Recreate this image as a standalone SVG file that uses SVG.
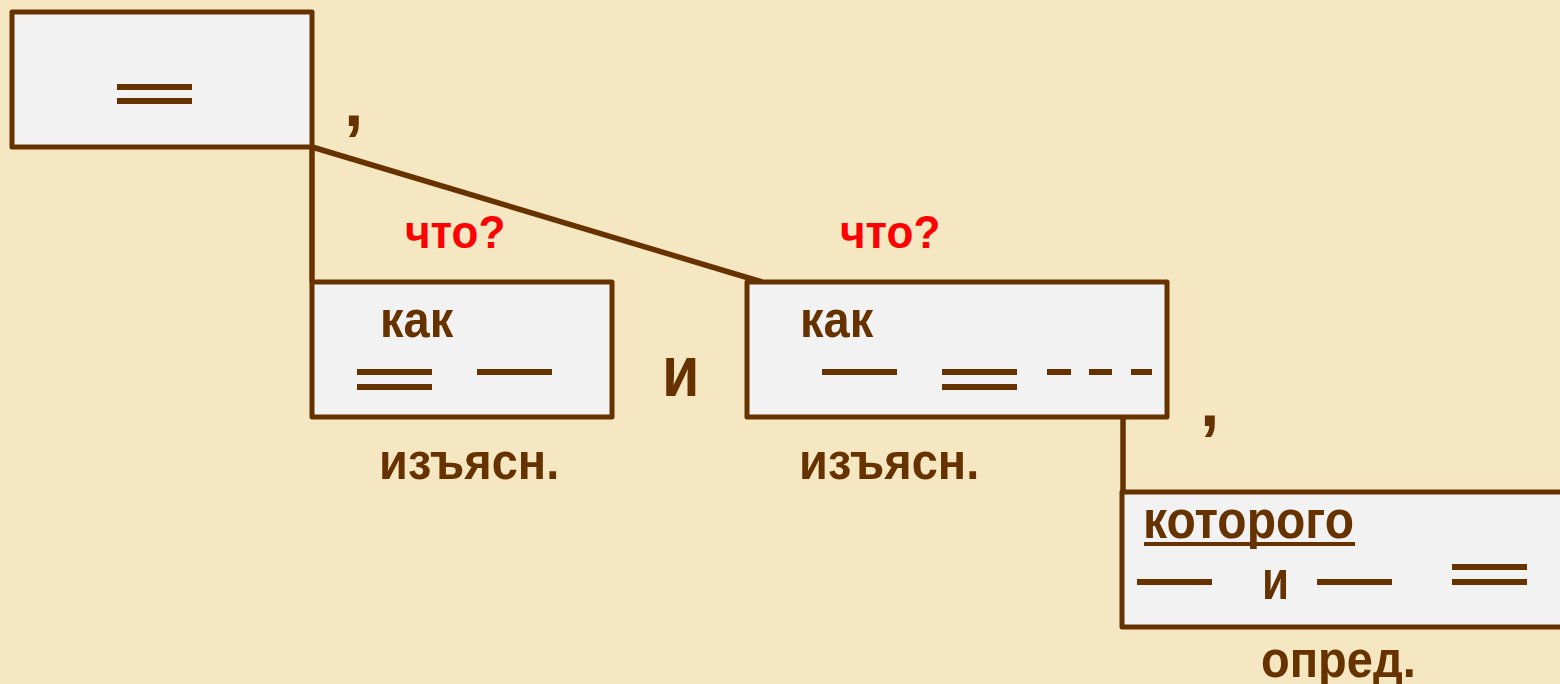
<svg xmlns="http://www.w3.org/2000/svg" width="1560" height="684" viewBox="0 0 1560 684">
<style>
.box{fill:#F2F2F2;stroke:#663300;stroke-width:5;stroke-linejoin:round}
.ln{stroke:#663300;stroke-width:6;fill:none}
.cn{stroke:#663300;stroke-width:5.5;fill:none}
.t{font-family:"Liberation Sans",Arial,sans-serif;font-weight:bold;fill:#663300}
.q{font-family:"Liberation Sans",Arial,sans-serif;font-weight:bold;fill:#FF0000}
</style>
<rect width="1560" height="684" fill="#F6E7C3"/>
<g id="connectors">
<line class="cn" x1="312" y1="147" x2="312" y2="282"/>
<line class="cn" x1="312" y1="147" x2="762" y2="282"/>
<line class="cn" x1="1123" y1="372" x2="1123" y2="492"/>
</g>
<g id="main">
<rect class="box" x="12" y="12" width="300" height="135"/>
<line class="ln" x1="117" y1="87" x2="192" y2="87"/>
<line class="ln" x1="117" y1="101" x2="192" y2="101"/>
</g>
<text class="t" x="344" y="126" font-size="70">,</text>
<g id="clause1">
<rect class="box" x="312" y="282" width="300" height="135"/>
<text class="t" transform="translate(380,337) scale(1,1.1)" font-size="47">как</text>
<line class="ln" x1="357" y1="372" x2="432" y2="372"/>
<line class="ln" x1="357" y1="387" x2="432" y2="387"/>
<line class="ln" x1="477" y1="372" x2="552" y2="372"/>
<text class="q" transform="translate(405,248) scale(1,1.05)" font-size="44">что?</text>
<text class="t" transform="translate(379,479) scale(1,1.1)" font-size="47">изъясн.</text>
</g>
<text class="t" transform="translate(662,396) scale(1,1.17)" font-size="61">и</text>
<g id="clause2">
<rect class="box" x="747" y="282" width="420" height="135"/>
<text class="t" transform="translate(800,337) scale(1,1.1)" font-size="47">как</text>
<line class="ln" x1="822" y1="372" x2="897" y2="372"/>
<line class="ln" x1="942" y1="372" x2="1017" y2="372"/>
<line class="ln" x1="942" y1="387" x2="1017" y2="387"/>
<line class="ln" x1="1047" y1="372" x2="1071" y2="372"/>
<line class="ln" x1="1089" y1="372" x2="1112" y2="372"/>
<line class="ln" x1="1131" y1="372" x2="1152" y2="372"/>
<text class="q" transform="translate(840,248) scale(1,1.05)" font-size="44">что?</text>
<text class="t" transform="translate(799,479) scale(1,1.1)" font-size="47">изъясн.</text>
</g>
<text class="t" x="1200" y="426" font-size="70">,</text>
<g id="clause3">
<rect class="box" x="1122" y="492" width="445" height="135"/>
<text class="t" transform="translate(1143,538) scale(1,1.1)" font-size="48">которого</text>
<line x1="1144" y1="544" x2="1355" y2="544" stroke="#663300" stroke-width="4"/>
<line class="ln" x1="1137" y1="582" x2="1212" y2="582"/>
<text class="t" transform="translate(1262,599) scale(1,1.25)" font-size="44">и</text>
<line class="ln" x1="1317" y1="582" x2="1392" y2="582"/>
<line class="ln" x1="1452" y1="567" x2="1527" y2="567"/>
<line class="ln" x1="1452" y1="582" x2="1527" y2="582"/>
<text class="t" transform="translate(1261,677) scale(1,1.1)" font-size="47">опред.</text>
</g>
</svg>
